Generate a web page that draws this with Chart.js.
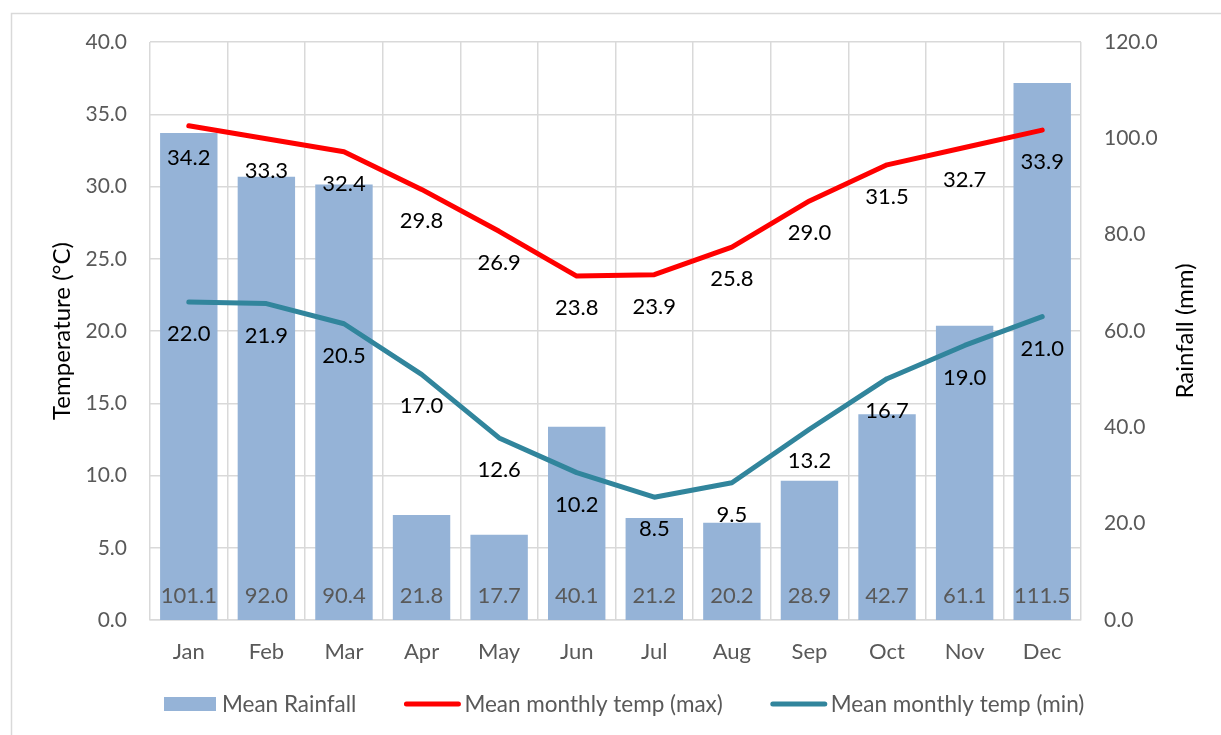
<!DOCTYPE html>
<html>
<head>
<meta charset="utf-8">
<script src="https://cdn.jsdelivr.net/npm/chart.js@4.4.1/dist/chart.umd.min.js"></script>
<style>
  html, body { margin: 0; padding: 0; background: #ffffff; }
  #wrap { width: 1221px; height: 735px; }
</style>
</head>
<body>
<div id="wrap"><canvas id="climate" width="1221" height="735"></canvas></div>
<script>
// Monthly climate data
const months = ['Jan', 'Feb', 'Mar', 'Apr', 'May', 'Jun', 'Jul', 'Aug', 'Sep', 'Oct', 'Nov', 'Dec'];
const rainfall = [101.1, 92.0, 90.4, 21.8, 17.7, 40.1, 21.2, 20.2, 28.9, 42.7, 61.1, 111.5];
const tempMax = [34.2, 33.3, 32.4, 29.8, 26.9, 23.8, 23.9, 25.8, 29.0, 31.5, 32.7, 33.9];
const tempMin = [22.0, 21.9, 20.5, 17.0, 12.6, 10.2, 8.5, 9.5, 13.2, 16.7, 19.0, 21.0];

const seriesNames = ['Mean Rainfall', 'Mean monthly temp (max)', 'Mean monthly temp (min)'];
const axisTitles = { temp: 'Temperature (°C)', rain: 'Rainfall (mm)' };

const FONT = 'Lato';
const TICK_SIZE = 21;
const GRID = '#d9d9d9';
const TEXT_GREY = '#595959';
const COLORS = { rain: '#95b3d7', max: '#ff0000', min: '#31859c' };

// Frame lines around the chart object
const framePlugin = {
  id: 'frame',
  beforeDraw(chart) {
    const ctx = chart.ctx;
    ctx.save();
    ctx.strokeStyle = GRID;
    ctx.lineWidth = 1.5;
    ctx.beginPath();
    ctx.moveTo(11.5, chart.height);
    ctx.lineTo(11.5, 13.5);
    ctx.lineTo(chart.width, 13.5);
    ctx.stroke();
    ctx.restore();
  }
};

// Value labels: rainfall at the bar base, temperatures below each point
const valueLabels = {
  id: 'valueLabels',
  afterDatasetsDraw(chart) {
    const ctx = chart.ctx;
    const base = chart.scales.y1.getPixelForValue(0);
    ctx.save();
    ctx.font = `22px ${FONT}`;
    ctx.textAlign = 'center';
    ctx.textBaseline = 'middle';
    chart.getDatasetMeta(0).data.forEach((bar, i) => {
      ctx.fillStyle = TEXT_GREY;
      ctx.fillText(rainfall[i].toFixed(1), bar.x, base - 24);
    });
    [[1, tempMax], [2, tempMin]].forEach(([idx, vals]) => {
      chart.getDatasetMeta(idx).data.forEach((pt, i) => {
        ctx.fillStyle = '#000000';
        ctx.fillText(vals[i].toFixed(1), pt.x, pt.y + 32);
      });
    });
    ctx.restore();
  }
};

// Rotated axis titles, both reading bottom to top
const axisTitlePlugin = {
  id: 'axisTitles',
  afterDraw(chart) {
    const ctx = chart.ctx;
    const area = chart.chartArea;
    const cy = (area.top + area.bottom) / 2;
    ctx.save();
    ctx.font = `24px ${FONT}`;
    ctx.fillStyle = '#000000';
    ctx.textAlign = 'center';
    ctx.textBaseline = 'middle';
    [[62, axisTitles.temp], [1185, axisTitles.rain]].forEach(([x, t]) => {
      ctx.save();
      ctx.translate(x, cy);
      ctx.rotate(-Math.PI / 2);
      ctx.fillText(t, 0, 0);
      ctx.restore();
    });
    ctx.restore();
  }
};

// Legend row under the category axis
const legendPlugin = {
  id: 'bottomLegend',
  afterDraw(chart) {
    const ctx = chart.ctx;
    const y = 704;
    ctx.save();
    ctx.font = `22.5px ${FONT}`;
    ctx.textBaseline = 'middle';
    ctx.textAlign = 'left';
    let x = 164;
    chart.data.datasets.forEach((ds) => {
      if (ds.type === 'line') {
        ctx.strokeStyle = ds.borderColor;
        ctx.lineWidth = 5;
        ctx.lineCap = 'round';
        ctx.beginPath();
        ctx.moveTo(x + 2, y);
        ctx.lineTo(x + 54, y);
        ctx.stroke();
        x += 60;
      } else {
        ctx.fillStyle = ds.backgroundColor;
        ctx.fillRect(x, y - 7, 52, 14);
        x += 58;
      }
      ctx.fillStyle = TEXT_GREY;
      ctx.fillText(ds.label, x, y + 1);
      x += ctx.measureText(ds.label).width + 48;
    });
    ctx.restore();
  }
};

new Chart(document.getElementById('climate'), {
  type: 'bar',
  data: {
    labels: months,
    datasets: [
      {
        label: seriesNames[0],
        data: rainfall,
        yAxisID: 'y1',
        backgroundColor: COLORS.rain,
        categoryPercentage: 1,
        barPercentage: 0.74,
        order: 3
      },
      {
        type: 'line',
        label: seriesNames[1],
        data: tempMax,
        yAxisID: 'y',
        borderColor: COLORS.max,
        backgroundColor: COLORS.max,
        borderWidth: 5,
        borderCapStyle: 'round',
        borderJoinStyle: 'round',
        pointRadius: 0,
        tension: 0,
        order: 1
      },
      {
        type: 'line',
        label: seriesNames[2],
        data: tempMin,
        yAxisID: 'y',
        borderColor: COLORS.min,
        backgroundColor: COLORS.min,
        borderWidth: 5,
        borderCapStyle: 'round',
        borderJoinStyle: 'round',
        pointRadius: 0,
        tension: 0,
        order: 2
      }
    ]
  },
  options: {
    responsive: false,
    animation: false,
    devicePixelRatio: 1,
    layout: { padding: { top: 42, left: 0, right: 0, bottom: 0 } },
    plugins: {
      legend: { display: false },
      tooltip: { enabled: false }
    },
    scales: {
      x: {
        offset: true,
        grid: { color: GRID, lineWidth: 1.5, offset: true, drawTicks: false },
        border: { color: GRID, width: 1.5 },
        ticks: { color: TEXT_GREY, font: { family: FONT, size: 22 }, padding: 19, maxRotation: 0 },
        afterFit(scale) { scale.height = 115; }
      },
      y: {
        position: 'left',
        min: 0,
        max: 40,
        grid: { color: GRID, lineWidth: 1.5, drawTicks: false },
        border: { display: false },
        ticks: {
          stepSize: 5,
          color: TEXT_GREY,
          font: { family: FONT, size: TICK_SIZE },
          padding: 23,
          callback: v => Number(v).toFixed(1)
        },
        afterFit(scale) { scale.width = 150; }
      },
      y1: {
        position: 'right',
        min: 0,
        max: 120,
        grid: { display: false, drawTicks: false },
        border: { display: false },
        ticks: {
          stepSize: 20,
          color: TEXT_GREY,
          font: { family: FONT, size: TICK_SIZE },
          padding: 23,
          callback: v => Number(v).toFixed(1)
        },
        afterFit(scale) { scale.width = 140; }
      }
    }
  },
  plugins: [framePlugin, valueLabels, axisTitlePlugin, legendPlugin]
});
</script>
</body>
</html>
